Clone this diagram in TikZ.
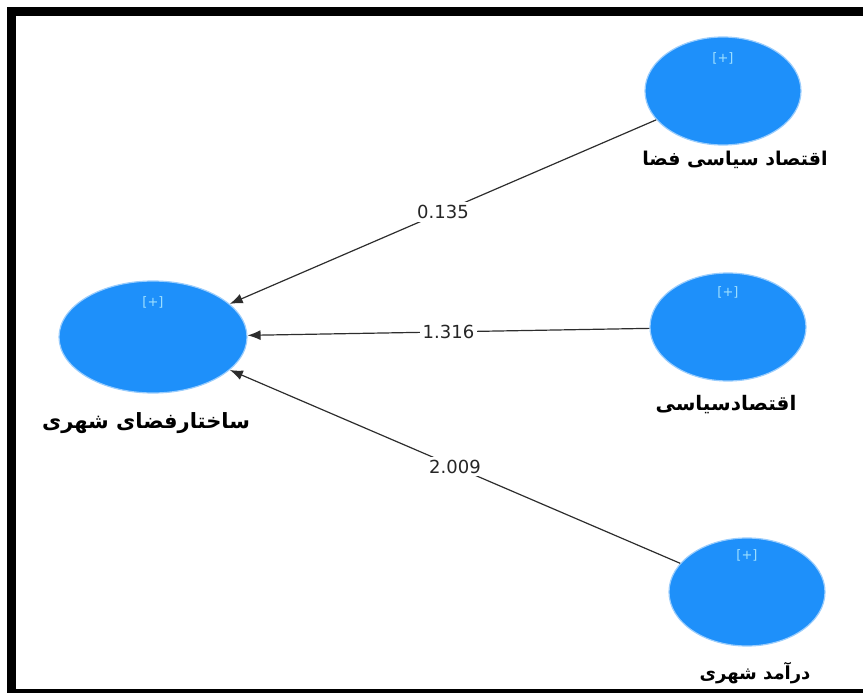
\documentclass[tikz,border=0pt]{standalone}
\usepackage{fontspec}
\setmainfont{DejaVu Sans}
\newfontfamily\arabicfont[Script=Arabic]{DejaVu Sans}
\TeXXeTstate=1
\usetikzlibrary{shapes.geometric,arrows.meta}

\definecolor{lvblue}{RGB}{30,144,250}
\definecolor{pluscyan}{RGB}{160,225,255}
\definecolor{linkgray}{RGB}{45,45,45}

\begin{document}
\begin{tikzpicture}[x=1pt, y=-1pt,
  construct/.style={ellipse, fill=lvblue, draw=lvblue!45!white, line width=1.2pt,
                    minimum width=156pt, minimum height=108pt, inner sep=0pt},
  plus/.style={text=pluscyan, font=\fontsize{13}{13}\selectfont},
  lvname/.style={font=\arabicfont\bfseries\fontsize{#1}{#1}\selectfont},
  lvname/.default=19,
  coef/.style={fill=white, inner sep=3pt, text=black!85, font=\fontsize{18}{18}\selectfont},
  link/.style={-{Latex[length=13pt,width=10pt]}, line width=1.2pt, linkgray}]

\useasboundingbox (0,0) rectangle (863,693);

% frame
\draw [line width=9pt] (863,11.5) -- (11,11.5) -- (11,693);
\draw [line width=4pt] (7,691) -- (863,691);

% constructs
\node [construct, minimum width=188pt, minimum height=112pt] (city) at (153,337) {};
\node [construct] (space) at (723,91)  {};
\node [construct] (polec) at (728,327) {};
\node [construct] (income) at (747,592) {};

\node [plus] (cityplus)   at ([yshift=35pt]city.center)   {[+]};
\node [plus] (spaceplus)  at ([yshift=33pt]space.center)  {[+]};
\node [plus] (polecplus)  at ([yshift=35pt]polec.center)  {[+]};
\node [plus] (incomeplus) at ([yshift=37pt]income.center) {[+]};

% names
\node [lvname=21] (citylbl)   at (146,423) {\beginR ساختارفضای شهری\endR};
\node [lvname=19] (spacelbl)  at (735,160) {\beginR اقتصاد سیاسی فضا\endR};
\node [lvname=20] (poleclbl)  at (726,405) {\beginR اقتصادسیاسی\endR};
\node [lvname=18] (incomelbl) at (755,673) {\beginR درآمد شهری\endR};

% paths
\draw [link] (space)  -- node [coef] (c1) {0.135} (city);
\draw [link] (polec)  -- node [coef] (c2) {1.316} (city);
\draw [link] (income) -- node [coef] (c3) {2.009} (city);

\end{tikzpicture}
\end{document}
